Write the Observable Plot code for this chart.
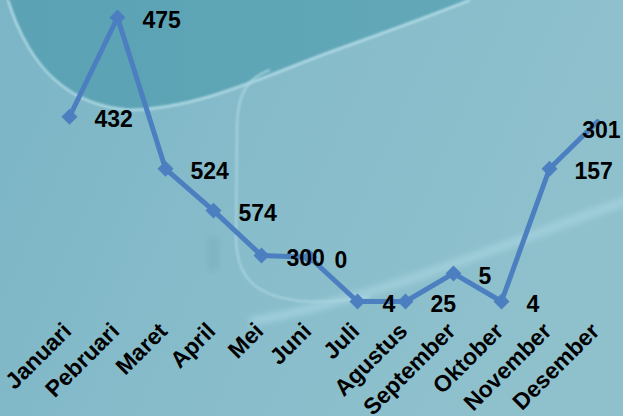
<!DOCTYPE html>
<html>
<head>
<meta charset="utf-8">
<script src="https://cdn.jsdelivr.net/npm/d3@7"></script>
<script src="https://cdn.jsdelivr.net/npm/@observablehq/plot@0.6"></script>
<style>
  html, body { margin: 0; padding: 0; }
  #wrap { position: relative; width: 623px; height: 416px; overflow: hidden; }
  #bg, #chart { position: absolute; left: 0; top: 0; }
</style>
</head>
<body>
<div id="wrap">
  <svg id="bg" width="623" height="416" viewBox="0 0 623 416">
    <defs>
      <linearGradient id="g" x1="0" y1="0" x2="1" y2="0.3">
        <stop offset="0" stop-color="#7bb5c6"/>
        <stop offset="0.6" stop-color="#89bdcb"/>
        <stop offset="1" stop-color="#8fc1cd"/>
      </linearGradient>
      <linearGradient id="dk" x1="0" y1="0" x2="1" y2="0">
        <stop offset="0" stop-color="#5aa2b4"/>
        <stop offset="1" stop-color="#62a8b8"/>
      </linearGradient>
      <filter id="blur" x="-10%" y="-10%" width="120%" height="120%"><feGaussianBlur stdDeviation="3"/></filter>
      <filter id="blur1"><feGaussianBlur stdDeviation="0.8"/></filter>
    </defs>
    <rect width="623" height="416" fill="url(#g)"/>
    <path d="M8,0 C30,70 70,106 130,110 C200,108 260,78 330,52 C400,27 440,12 470,0 Z" fill="url(#dk)"/>
    <path d="M8,0 C30,70 70,106 130,110 C200,108 260,78 330,52 C400,27 440,12 470,0" fill="none" stroke="#b2dbe6" stroke-width="2.5" filter="url(#blur1)"/>
    <path d="M270,70 C248,78 238,92 237,125 L236,240 C237,280 258,296 300,301 C330,303 350,300 370,296" fill="none" stroke="#add7e2" stroke-width="2" filter="url(#blur1)" opacity="0.9"/>
    <path d="M250,322 C390,295 500,245 640,196" fill="none" stroke="#a9d5e1" stroke-width="8" filter="url(#blur)" opacity="0.75"/>
    <rect x="207" y="238" width="12" height="32" fill="#6fa7b6" opacity="0.35" filter="url(#blur)"/>
  </svg>
  <div id="chart"></div>
</div>
<script>
const months = ["Januari","Pebruari","Maret","April","Mei","Juni","Juli","Agustus","September","Oktober","November","Desember"];
const values = [309, 475, 222, 152, 77, 74, 0, 0, 47, 0, 222, 301];
const labels = ["432","475","524","574","300","0","4","25","5","4","157","301"];

const data = months.map((m, i) => ({month: m, value: values[i], label: labels[i], i}));
const n = data.length;
const blue = "#4c7fc0";
const font = "'Liberation Sans', Arial, sans-serif";

const chart = Plot.plot({
  width: 623,
  height: 416,
  marginTop: 17,
  marginBottom: 115,
  marginLeft: 67,
  marginRight: 24,
  style: {background: "transparent", overflow: "visible", fontFamily: font, fontWeight: "bold", color: "#000"},
  x: {type: "point", domain: months, padding: 0, label: null},
  y: {domain: [0, 475], axis: null},
  marks: [
    Plot.axisX({tickSize: 0, tickRotate: -45, fontSize: 23, fontWeight: "bold", fill: "#000", dy: 14, dx: -2, label: null}),
    Plot.line(data, {x: "month", y: "value", stroke: blue, strokeWidth: 5}),
    Plot.dot(data.filter(d => d.i < n - 1), {x: "month", y: "value", symbol: "diamond2", r: 7.2, fill: blue, stroke: "none"}),
    Plot.text(data.filter(d => d.i < n - 1), {x: "month", y: "value", text: "label", textAnchor: "start", dx: 25, dy: 3, fontSize: 23, fontWeight: "bold", fill: "#000"}),
    Plot.text(data.filter(d => d.i === n - 1), {x: "month", y: "value", text: "label", textAnchor: "end", dx: 23, dy: 9, fontSize: 23, fontWeight: "bold", fill: "#000"})
  ]
});
document.getElementById("chart").appendChild(chart);
</script>
</body>
</html>
